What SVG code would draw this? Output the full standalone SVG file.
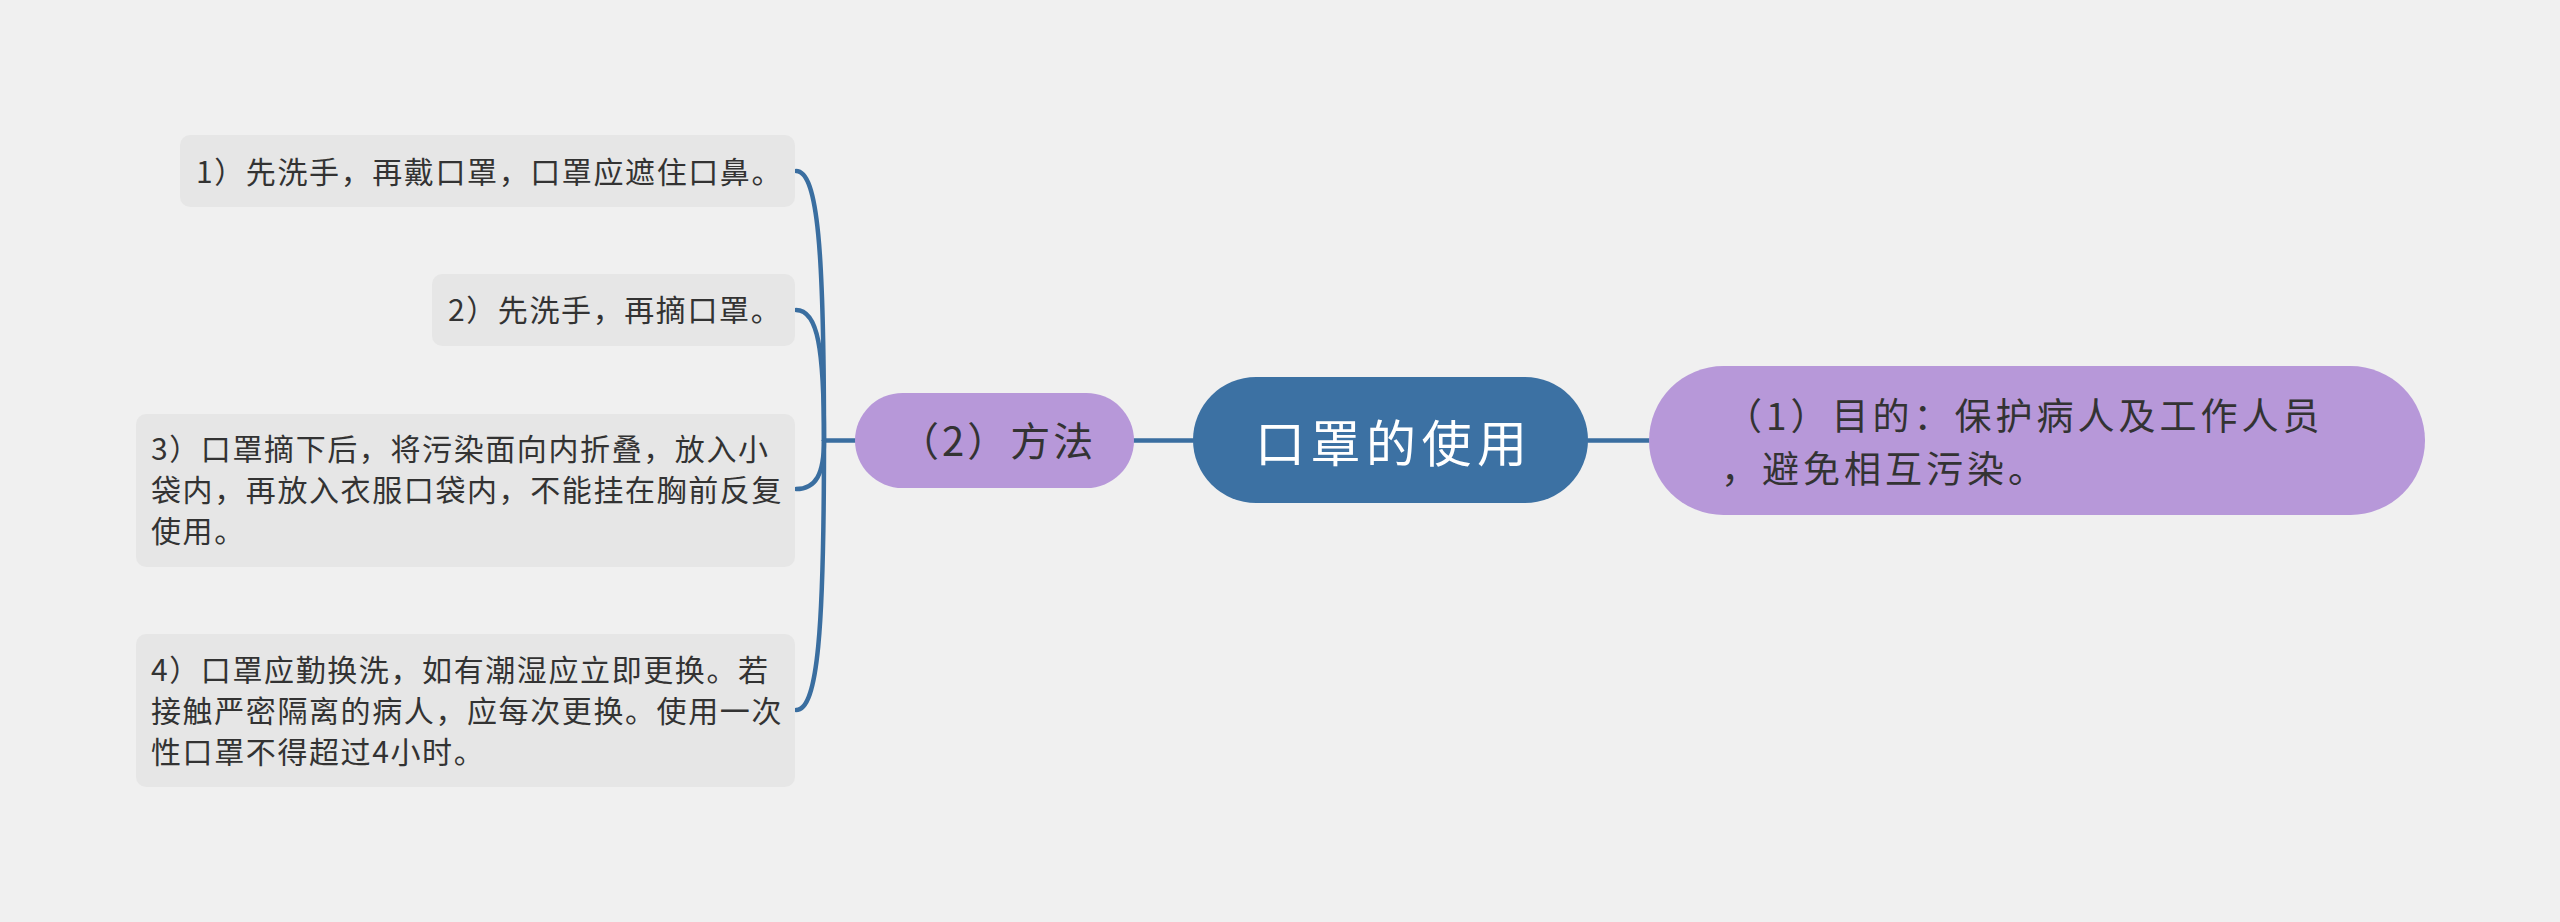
<svg xmlns="http://www.w3.org/2000/svg" width="2560" height="922" viewBox="0 0 2560 922">
<style>
.bg{fill:#f0f0f0}
.leaf rect{fill:#e6e6e6}
.leaf text{font-family:"Noto Sans CJK SC","Noto Sans",sans-serif;font-size:30px;letter-spacing:1.6px;fill:#333333}
.sub rect{fill:#b798d9}
.sub text{fill:#333333;font-family:"Noto Sans CJK SC","Noto Sans",sans-serif}
.root rect{fill:#3c71a3}
.root text{fill:#ffffff;font-family:"Noto Sans CJK SC","Noto Sans",sans-serif;font-size:50px;letter-spacing:5.5px}
.conn path{fill:none;stroke:#3a6ea0;stroke-width:4.5;stroke-linecap:round}
</style>
<rect class="bg" x="0" y="0" width="2560" height="922"/>
<g id="connectors" class="conn">
<path d="M1134 440.5 H1193"/>
<path d="M1588 440.5 H1649"/>
<path d="M855 440.5 H824"/>
<path d="M824 440.5 C824 251, 818 171, 796 171"/>
<path d="M824 440.5 C824 349, 818 310, 796 310"/>
<path d="M824 440.5 C824 474, 816 489, 796 489"/>
<path d="M824 440.5 C824 629, 818 710, 796 710"/>
</g>
<g id="root" class="root">
<rect x="1193" y="377" width="395" height="126" rx="63"/>
<text x="1255" y="462">口罩的使用</text>
</g>
<g id="node-purpose" class="sub">
<rect x="1649" y="366" width="776" height="149" rx="74.5"/>
<text x="1725" y="430" font-size="37" letter-spacing="4">（1）目的：保护病人及工作人员</text>
<text x="1721" y="483" font-size="37" letter-spacing="4">，避免相互污染。</text>
</g>
<g id="node-method" class="sub">
<rect x="855" y="393" width="279" height="95" rx="47.5"/>
<text x="899" y="456" font-size="40" letter-spacing="3">（2）方法</text>
</g>
<g id="leaf-1" class="leaf">
<rect x="180" y="135" width="615" height="72" rx="10"/>
<text x="196" y="183">1）先洗手，再戴口罩，口罩应遮住口鼻。</text>
</g>
<g id="leaf-2" class="leaf">
<rect x="432" y="274" width="363" height="72" rx="10"/>
<text x="448" y="321">2）先洗手，再摘口罩。</text>
</g>
<g id="leaf-3" class="leaf">
<rect x="136" y="414" width="659" height="153" rx="10"/>
<text x="151" y="460">3）口罩摘下后，将污染面向内折叠，放入小</text>
<text x="151" y="501">袋内，再放入衣服口袋内，不能挂在胸前反复</text>
<text x="151" y="542">使用。</text>
</g>
<g id="leaf-4" class="leaf">
<rect x="136" y="634" width="659" height="153" rx="10"/>
<text x="151" y="681">4）口罩应勤换洗，如有潮湿应立即更换。若</text>
<text x="151" y="722">接触严密隔离的病人，应每次更换。使用一次</text>
<text x="151" y="763">性口罩不得超过4小时。</text>
</g>
</svg>
